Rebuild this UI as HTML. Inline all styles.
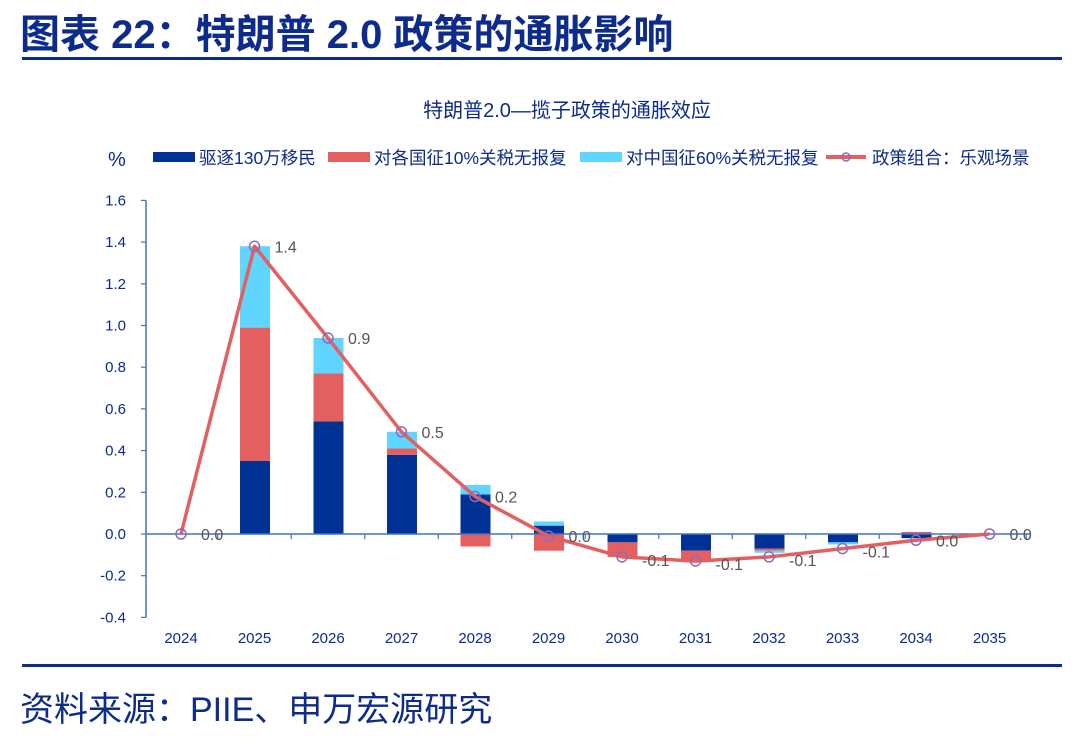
<!DOCTYPE html>
<html><head><meta charset="utf-8"><style>
body{margin:0;width:1080px;height:739px;background:#fff;overflow:hidden;font-family:"Liberation Sans","Noto Sans CJK SC",sans-serif;}
#title{position:absolute;left:20px;top:12px;font-size:40px;line-height:46px;font-weight:bold;color:#0d2b8c;white-space:nowrap;}
#src{position:absolute;left:20px;top:690px;font-size:34px;line-height:40px;color:#0d2b8c;white-space:nowrap;}
.rule{position:absolute;left:22px;width:1040px;background:#0d2b8c;}
</style></head><body>
<div id="title">图表 22：特朗普 2.0 政策的通胀影响</div>
<div class="rule" style="top:57px;height:3px"></div>
<div class="rule" style="top:664px;height:3px"></div>
<div id="src">资料来源：PIIE、申万宏源研究</div>
<svg id="chart" width="1080" height="739" style="position:absolute;left:0;top:0" font-family="Liberation Sans, Noto Sans CJK SC, sans-serif"></svg>
<script>
const years=["2024","2025","2026","2027","2028","2029","2030","2031","2032","2033","2034","2035"];
const deport=[0,0.35,0.54,0.38,0.19,0.04,-0.04,-0.08,-0.07,-0.04,-0.02,0];
const tariff10=[0,0.64,0.23,0.03,-0.06,-0.08,-0.07,-0.05,-0.01,0,0.01,0];
const tariff60=[0,0.39,0.17,0.08,0.045,0.02,0,0,-0.01,-0.01,0,0];
const combined=[0,1.38,0.94,0.49,0.18,-0.01,-0.11,-0.13,-0.11,-0.07,-0.03,0];
const pointLabels=["0.0","1.4","0.9","0.5","0.2","0.0","-0.1","-0.1","-0.1","-0.1","0.0","0.0"];
const yTicks=[1.6,1.4,1.2,1.0,0.8,0.6,0.4,0.2,0.0,-0.2,-0.4];
const NS="http://www.w3.org/2000/svg";
const svg=document.getElementById('chart');
const y0=534, ppu=208.5, x0=181, step=73.5, bw=30;
const Y=v=>y0-v*ppu, X=i=>x0+i*step;
function mk(t,a,txt){const e=document.createElementNS(NS,t);for(const k in a)e.setAttribute(k,a[k]);if(txt!==undefined)e.textContent=txt;svg.appendChild(e);return e;}
let e;
e=mk('text',{x:567,y:117,'font-size':20,fill:'#0d2b8c','text-anchor':'middle'},'特朗普2.0—揽子政策的通胀效应');


e=mk('text',{x:108,y:166,'font-size':20,fill:'#0d2b8c'},'%');


const leg=[["rect","#003194","驱逐130万移民",153],["rect","#e46060","对各国征10%关税无报复",328],["rect","#60d5ff","对中国征60%关税无报复",580],["line","#e46060","政策组合：乐观场景",826]];
leg.forEach(l=>{
 if(l[0]=="rect"){e=mk('rect',{x:l[3],y:152,width:42,height:10,fill:l[1]});}
 else{mk('line',{x1:l[3],y1:157,x2:l[3]+40,y2:157,stroke:l[1],'stroke-width':4});e=mk('circle',{cx:l[3]+20,cy:157,r:4,fill:'none',stroke:'#8e6bb8','stroke-width':1.5});}
 
 
 e=mk('text',{x:l[3]+46,y:164,'font-size':17.5,fill:'#0d2b8c'},l[2]);
 
 
});
e=mk('line',{x1:146,y1:Y(1.6),x2:146,y2:Y(-0.4),stroke:'#4472c4','stroke-width':1.5});


yTicks.forEach(t=>{
 mk('line',{x1:141,y1:Y(t),x2:146,y2:Y(t),stroke:'#4472c4','stroke-width':1.2});
 e=mk('text',{x:126,y:Y(t)+5,'font-size':15,fill:'#0d2b8c','text-anchor':'end'},t.toFixed(1));
 
 
});
years.forEach((yr,i)=>{
 let pos=0,neg=0;
 [[deport,'#003194'],[tariff10,'#e46060'],[tariff60,'#60d5ff']].forEach(([arr,c])=>{
  const v=arr[i]; if(!v)return;
  let a,b; if(v>0){a=pos;b=pos+v;pos=b;}else{a=neg;b=neg+v;neg=b;}
  e=mk('rect',{x:X(i)-bw/2+0.5,y:Y(Math.max(a,b)),width:bw,height:Math.abs(Y(a)-Y(b)),fill:c});
  
  
 });
});
e=mk('line',{x1:146,y1:y0,x2:1030,y2:y0,stroke:'#4472c4','stroke-width':1.5});


years.forEach((yr,i)=>{
 mk('line',{x1:X(i)+step/2,y1:y0,x2:X(i)+step/2,y2:y0+5,stroke:'#4472c4','stroke-width':1.2});
 e=mk('text',{x:X(i),y:643,'font-size':15,fill:'#0d2b8c','text-anchor':'middle'},yr);
 
 
});
let d=combined.map((v,i)=>(i?'L':'M')+X(i)+' '+Y(v)).join(' ');
e=mk('path',{d:d,fill:'none',stroke:'#e46060','stroke-width':3.5,'stroke-linejoin':'round'});


combined.forEach((v,i)=>{
 e=mk('circle',{cx:X(i),cy:Y(v),r:5,fill:'none',stroke:'#8e6bb8','stroke-width':1.5});
 
 
 e=mk('text',{x:X(i)+20,y:Y(v)+(v<-0.05?9:6),'font-size':16,fill:'#555'},pointLabels[i]);
 
 
});
</script>
</body></html>
